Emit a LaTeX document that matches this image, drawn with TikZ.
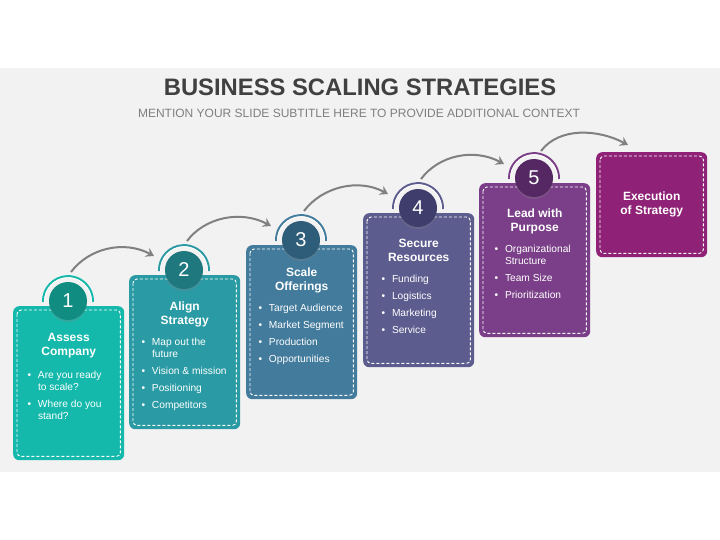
\documentclass[tikz,border=0pt]{standalone}
\usepackage{fontspec}
\setmainfont{Liberation Sans}
\usetikzlibrary{arrows.meta,shadows}

% bullet line and its continuation
\newcommand\stepitem[1]{\makebox[10.5pt][l]{\textbullet}#1}
\newcommand\stepcont[1]{\hspace*{10.5pt}#1}

\begin{document}
\begin{tikzpicture}[x=1pt,y=-1pt,
  stepbox/.style={rounded corners=6pt, minimum width=111pt, inner sep=0pt, anchor=north west},
  innerdash/.style={draw=white, line width=0.9pt, dash pattern=on 3pt off 2pt, rounded corners=4pt},
  stepnum/.style={circle, minimum size=38pt, inner sep=0pt, text=white,
    font=\fontsize{20}{22}\selectfont,
    drop shadow={shadow xshift=0pt, shadow yshift=-2pt, opacity=0.3}},
  ring/.style={line width=2pt},
  ringline/.style={draw=white, line width=0.7pt},
  boxtitle/.style={text=white, align=center, font=\fontsize{12}{14}\selectfont\bfseries},
  boxlist/.style={text=white, align=left, anchor=north west, inner sep=0pt,
    font=\fontsize{10.2}{12}\selectfont},
  flow/.style={draw=arrowgray, line width=2pt, -{Stealth[length=8pt,width=10pt,inset=3pt]}}]
  % Define colors
  \definecolor{bggray}{RGB}{242,242,242}
  \definecolor{titlegray}{RGB}{64,64,64}
  \definecolor{subgray}{RGB}{127,127,127}
  \definecolor{arrowgray}{RGB}{128,128,128}
  \definecolor{boxa}{RGB}{20,185,172}
  \definecolor{numa}{RGB}{17,140,128}
  \definecolor{boxb}{RGB}{42,155,164}
  \definecolor{numb}{RGB}{30,120,126}
  \definecolor{boxc}{RGB}{67,123,156}
  \definecolor{numc}{RGB}{45,93,120}
  \definecolor{boxd}{RGB}{92,92,143}
  \definecolor{numd}{RGB}{62,61,107}
  \definecolor{boxe}{RGB}{122,63,136}
  \definecolor{nume}{RGB}{85,40,99}
  \definecolor{boxf}{RGB}{143,33,118}

  % Page and gray band
  \useasboundingbox (0,0) rectangle (720,540);
  \fill[white] (0,0) rectangle (720,540);
  \fill[bggray] (0,68) rectangle (720,472);

  % Heading
  \node[anchor=base, text=titlegray, font=\fontsize{23.8}{28}\selectfont\bfseries]
    (title) at (360,96) {BUSINESS SCALING STRATEGIES};
  \node[anchor=base, text=subgray, font=\fontsize{12}{14}\selectfont]
    (subtitle) at (359,117.5) {MENTION YOUR SLIDE SUBTITLE HERE TO PROVIDE ADDITIONAL CONTEXT};

  % Step boxes with number badges
  \foreach \i/\x/\y/\col/\dark in {1/13/306/boxa/numa, 2/129/275/boxb/numb,
      3/246/245/boxc/numc, 4/363/213/boxd/numd, 5/479/183/boxe/nume} {
    \node[stepbox, fill=\col, minimum height=154pt] (box\i) at (\x,\y) {};
    \draw[innerdash] ([shift={(4,4)}]box\i.north west) rectangle ([shift={(-4,-4)}]box\i.south east);
    \node[stepnum, fill=\dark] (c\i) at ([shift={(55,-5)}]box\i.north west) {\i};
    \draw[ring, draw=\col] ([shift={(-25,1)}]c\i.center)
      arc[start angle=178, end angle=362, radius=25];
    \draw[ringline] ([shift={(-23.5,1)}]c\i.center)
      arc[start angle=178, end angle=362, radius=23.5];
  }

  % Last box
  \node[stepbox, fill=boxf, minimum height=105pt] (box6) at (596,152) {};
  \draw[innerdash] ([shift={(4,4)}]box6.north west) rectangle ([shift={(-4,-4)}]box6.south east);

  % Box titles
  \node[boxtitle] (t1) at ([shift={(0,40)}]box1.north) {Assess\\Company};
  \node[boxtitle] (t2) at ([shift={(0,39)}]box2.north) {Align\\Strategy};
  \node[boxtitle] (t3) at ([shift={(0,35)}]box3.north) {Scale\\Offerings};
  \node[boxtitle] (t4) at ([shift={(0,37)}]box4.north) {Secure\\Resources};
  \node[boxtitle] (t5) at ([shift={(0,38)}]box5.north) {Lead with\\Purpose};
  \node[boxtitle] (t6) at (box6.center) {Execution\\of Strategy};

  % Bullet lists
  \node[boxlist] (l1) at ([shift={(14.3,65)}]box1.north west)
    {\stepitem{Are you ready}\\ \stepcont{to scale?}\\[5pt]
     \stepitem{Where do you}\\ \stepcont{stand?}};
  \node[boxlist] (l2) at ([shift={(12.3,63)}]box2.north west)
    {\stepitem{Map out the}\\ \stepcont{future}\\[5pt]
     \stepitem{Vision \& mission}\\[5pt] \stepitem{Positioning}\\[5pt]
     \stepitem{Competitors}};
  \node[boxlist] (l3) at ([shift={(12.3,59)}]box3.north west)
    {\stepitem{Target Audience}\\[5pt] \stepitem{Market Segment}\\[5pt]
     \stepitem{Production}\\[5pt] \stepitem{Opportunities}};
  \node[boxlist] (l4) at ([shift={(18.3,62)}]box4.north west)
    {\stepitem{Funding}\\[5pt] \stepitem{Logistics}\\[5pt]
     \stepitem{Marketing}\\[5pt] \stepitem{Service}};
  \node[boxlist] (l5) at ([shift={(15.3,62)}]box5.north west)
    {\stepitem{Organizational}\\ \stepcont{Structure}\\[5pt]
     \stepitem{Team Size}\\[5pt] \stepitem{Prioritization}};

  % Curved arrows between steps
  \foreach \i/\j in {1/2, 2/3, 3/4, 4/5} {
    \draw[flow] ([shift={(3,-29)}]c\i.center) .. controls +(18,-24) and +(-30,-16)
      .. ([shift={(-30,-14)}]c\j.center);
  }
  \draw[flow] ([shift={(7,-27)}]c5.center) .. controls +(18,-24) and +(-30,-16)
    .. ([shift={(32,-7)}]box6.north west);
\end{tikzpicture}
\end{document}
